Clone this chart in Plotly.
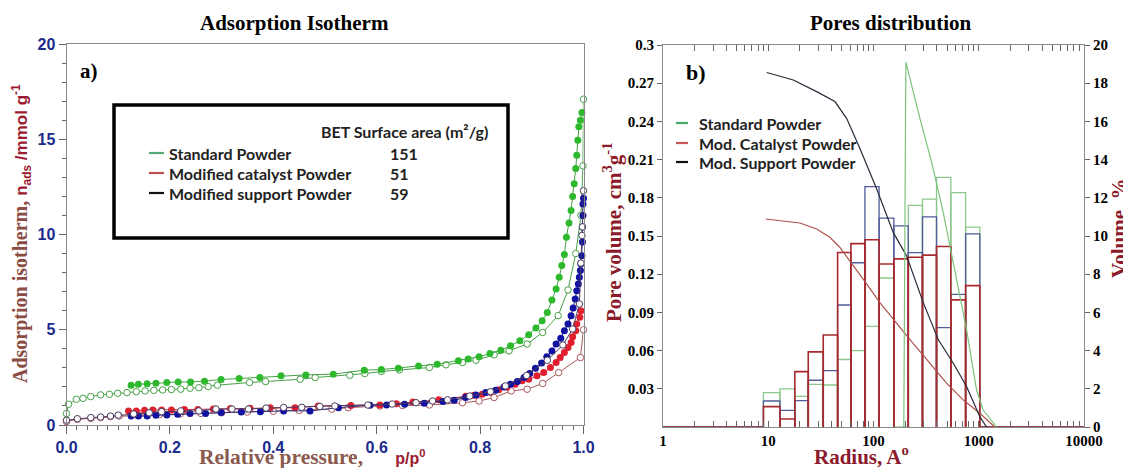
import plotly.graph_objects as go

# ---------------- Left panel: adsorption isotherms (p/p0, n_ads mmol/g) ----------------
std_ads = [(0.125, 2.09), (0.139, 2.14), (0.156, 2.16), (0.173, 2.19), (0.194, 2.23), (0.216, 2.26),
           (0.240, 2.26), (0.267, 2.30), (0.299, 2.39), (0.334, 2.44), (0.374, 2.49), (0.415, 2.58),
           (0.463, 2.63), (0.516, 2.67), (0.576, 2.88), (0.609, 2.91), (0.642, 2.98), (0.681, 3.10),
           (0.717, 3.19), (0.758, 3.37), (0.777, 3.46), (0.798, 3.58), (0.819, 3.75), (0.840, 3.93),
           (0.859, 4.16), (0.877, 4.42), (0.894, 4.74), (0.908, 5.09), (0.920, 5.47), (0.930, 5.91),
           (0.939, 6.56), (0.947, 7.14), (0.953, 7.75), (0.958, 8.37), (0.963, 8.95), (0.967, 9.86),
           (0.972, 10.6), (0.976, 11.26), (0.979, 12.0), (0.982, 12.67), (0.985, 13.46), (0.987, 14.16),
           (0.989, 14.95), (0.991, 15.65), (0.994, 16.0), (0.997, 16.4)]
std_des = [(0.0, 0.6), (0.004, 1.09), (0.019, 1.35), (0.032, 1.40), (0.047, 1.49), (0.066, 1.58),
           (0.083, 1.61), (0.099, 1.67), (0.117, 1.70), (0.135, 1.75), (0.152, 1.79), (0.169, 1.82),
           (0.186, 1.84), (0.203, 1.86), (0.221, 1.88), (0.239, 1.93), (0.256, 1.96), (0.274, 2.02),
           (0.292, 2.09), (0.354, 2.23), (0.385, 2.28), (0.452, 2.40), (0.481, 2.49), (0.548, 2.61),
           (0.577, 2.70), (0.609, 2.81), (0.644, 2.89), (0.702, 3.02), (0.734, 3.16), (0.766, 3.28),
           (0.792, 3.40), (0.827, 3.68), (0.856, 3.89), (0.891, 4.25), (0.921, 4.86), (0.951, 5.74),
           (0.970, 7.09), (0.985, 9.0), (0.995, 11.0), (0.999, 13.6), (1.0, 17.1)]
sup_ads = [(0.125, 0.47), (0.139, 0.47), (0.156, 0.47), (0.173, 0.51), (0.194, 0.53), (0.215, 0.56),
           (0.239, 0.61), (0.269, 0.61), (0.299, 0.65), (0.338, 0.68), (0.375, 0.70), (0.420, 0.74),
           (0.471, 0.74), (0.526, 0.91), (0.587, 1.04), (0.619, 1.05), (0.654, 1.09), (0.692, 1.14),
           (0.728, 1.23), (0.750, 1.30), (0.772, 1.44), (0.792, 1.58), (0.811, 1.70), (0.830, 1.82),
           (0.846, 2.00), (0.859, 2.14), (0.872, 2.28), (0.885, 2.49), (0.896, 2.70), (0.907, 2.98),
           (0.919, 3.25), (0.929, 3.58), (0.939, 3.89), (0.947, 4.25), (0.956, 4.56), (0.963, 4.95),
           (0.970, 5.30), (0.976, 5.74), (0.980, 6.14), (0.984, 6.61), (0.987, 7.05), (0.990, 7.40),
           (0.992, 7.75), (0.994, 8.11), (0.995, 8.46), (0.997, 8.89), (0.998, 9.6), (0.998, 10.4),
           (0.999, 11.0), (0.999, 11.6), (1.0, 11.9)]
sup_des = [(0.0, 0.25), (0.021, 0.33), (0.047, 0.39), (0.066, 0.42), (0.085, 0.47), (0.10, 0.52),
           (0.13, 0.58), (0.16, 0.64), (0.184, 0.70), (0.221, 0.74), (0.256, 0.74), (0.289, 0.84),
           (0.32, 0.84), (0.352, 0.84), (0.386, 0.89), (0.42, 0.92), (0.455, 0.93), (0.49, 0.97),
           (0.519, 1.0), (0.583, 1.05), (0.63, 1.1), (0.676, 1.17), (0.708, 1.26), (0.737, 1.32),
           (0.78, 1.52), (0.82, 1.75), (0.849, 2.05), (0.89, 2.6), (0.93, 3.4), (0.96, 4.2),
           (0.979, 5.04), (0.992, 6.35), (0.995, 8.5), (0.997, 9.95), (0.998, 10.4), (1.0, 12.3)]
cat_ads = [(0.12, 0.74), (0.135, 0.74), (0.151, 0.77), (0.167, 0.79), (0.184, 0.79), (0.203, 0.79),
           (0.228, 0.82), (0.254, 0.82), (0.284, 0.84), (0.317, 0.86), (0.355, 0.88), (0.394, 0.91),
           (0.442, 0.91), (0.487, 1.0), (0.55, 1.02), (0.606, 1.05), (0.638, 1.12), (0.670, 1.21),
           (0.72, 1.32), (0.772, 1.51), (0.788, 1.56), (0.804, 1.61), (0.82, 1.72), (0.836, 1.85),
           (0.852, 1.98), (0.868, 2.14), (0.881, 2.32), (0.894, 2.40), (0.910, 2.58), (0.923, 2.75),
           (0.936, 3.02), (0.947, 3.28), (0.955, 3.54), (0.963, 3.81), (0.970, 4.07), (0.976, 4.33),
           (0.979, 4.63), (0.985, 4.95), (0.987, 5.30), (0.993, 5.65), (0.995, 6.0)]
cat_des = [(0.0, 0.18), (0.021, 0.30), (0.047, 0.35), (0.066, 0.39), (0.085, 0.44), (0.102, 0.47),
           (0.14, 0.52), (0.18, 0.55), (0.22, 0.58), (0.26, 0.61), (0.30, 0.64), (0.35, 0.68),
           (0.40, 0.72), (0.45, 0.76), (0.513, 0.83), (0.545, 0.91), (0.606, 1.0), (0.65, 1.02),
           (0.702, 1.05), (0.766, 1.17), (0.798, 1.26), (0.827, 1.44), (0.860, 1.79), (0.891, 1.88),
           (0.921, 2.18), (0.952, 2.75), (0.994, 3.54), (1.0, 5.0)]

legend_names = ["Standard Powder", "Modified catalyst Powder", "Modified support Powder"]
bet_values = ["151", "51", "59"]

# ---------------- Right panel: pore distribution ----------------
bin_edges = [9.0, 12.9, 17.9, 24.0, 33.3, 45.6, 61.0, 82.9, 113, 156, 214, 292, 397, 543, 750, 1024]
vol_std = [0.027, 0.030, 0.024, 0.0335, 0.033, 0.053, 0.060, 0.079, 0.117, 0.0, 0.174, 0.179, 0.196, 0.184, 0.157]
vol_sup = [0.0204, 0.0131, 0.0207, 0.0367, 0.0442, 0.0958, 0.129, 0.1888, 0.164, 0.158, 0.137, 0.165, 0.078, 0.1042, 0.1516]
vol_cat = [0.016, 0.0063, 0.0435, 0.059, 0.0723, 0.137, 0.144, 0.147, 0.128, 0.132, 0.1333, 0.135, 0.1417, 0.0998, 0.111]

cum_sup_r = [9.66, 17.3, 28.8, 43, 55.5, 74.3, 107, 154, 206, 297, 412, 571, 766, 1024, 1186]
cum_sup_p = [18.56, 18.17, 17.56, 17.04, 16.16, 14.58, 12.47, 10.19, 8.96, 6.51, 4.58, 3.35, 2.12, 0.54, 0]
cum_cat_r = [9.5, 13.9, 20, 28.8, 38.5, 48, 59.7, 79.8, 115, 154, 222, 343, 494, 711, 1024, 1420]
cum_cat_p = [10.89, 10.77, 10.68, 10.37, 9.93, 9.40, 8.70, 7.74, 6.51, 5.63, 4.58, 3.35, 2.30, 1.42, 0.72, 0]
cum_std_r = [194, 203, 276, 356, 459, 593, 766, 953, 1101, 1479]
cum_std_p = [0, 19.1, 16.16, 13.88, 11.25, 8.26, 5.1, 1.95, 0.89, 0]

legend2_names = ["Standard Powder", "Mod. Catalyst Powder", "Mod. Support Powder"]
radius_ticks = [1, 10, 100, 1000, 10000]
vol_ticks = [0.03, 0.06, 0.09, 0.12, 0.15, 0.18, 0.21, 0.24, 0.27, 0.3]

# The page body adds an 8px margin, so the figure is drawn 8px in from the window corner.
OFF = 8
W, H = 1131 - OFF, 468 - OFF
def fx(px):
    return (px - OFF) / W
def fy(py):
    return 1 - (py - OFF) / H

fig = go.Figure()

def iso_trace(pairs, color, line_color, filled):
    xs = [a for a, b in pairs]
    ys = [b for a, b in pairs]
    return go.Scatter(
        x=xs, y=ys, mode="lines+markers", xaxis="x", yaxis="y", cliponaxis=False,
        line=dict(color=line_color, width=1),
        marker=dict(symbol="circle", size=7 if filled else 6.5,
                    color=color if filled else "white",
                    line=dict(color=line_color if not filled else color, width=1 if not filled else 0)),
        showlegend=False, hoverinfo="skip")

fig.add_trace(iso_trace(std_des, "#33aa33", "#47a047", False))
fig.add_trace(iso_trace(std_ads, "#2eb82e", "#45a045", True))
fig.add_trace(iso_trace(cat_des, "#b05a60", "#a8585e", False))
fig.add_trace(iso_trace(cat_ads, "#e0202e", "#b03040", True))
fig.add_trace(iso_trace(sup_ads, "#1212a0", "#30307a", True))
fig.add_trace(iso_trace(sup_des, "#22224a", "#4a3a60", False))

def hist_path(edges, heights):
    xs, ys = [1], [0]
    for i, h in enumerate(heights):
        xs += [edges[i], edges[i], edges[i + 1], edges[i + 1], None]
        ys += [0, h, h, 0, None]
    xs += [edges[-1], 10000]
    ys += [0, 0]
    return xs, ys

for heights, col, w in [(vol_std, "#8cc88c", 1.3), (vol_sup, "#505c98", 1.3), (vol_cat, "#a82a2e", 1.6)]:
    hx, hy = hist_path(bin_edges, heights)
    fig.add_trace(go.Scatter(x=hx, y=hy, mode="lines", xaxis="x2", yaxis="y2",
                             line=dict(color=col, width=w), showlegend=False, hoverinfo="skip"))

fig.add_trace(go.Scatter(x=cum_cat_r, y=cum_cat_p, mode="lines", xaxis="x2", yaxis="y3",
                         line=dict(color="#b0504c", width=1.2), showlegend=False, hoverinfo="skip"))
fig.add_trace(go.Scatter(x=cum_sup_r, y=cum_sup_p, mode="lines", xaxis="x2", yaxis="y3",
                         line=dict(color="#2a2a3a", width=1.2), showlegend=False, hoverinfo="skip"))
fig.add_trace(go.Scatter(x=cum_std_r, y=cum_std_p, mode="lines", xaxis="x2", yaxis="y3",
                         line=dict(color="#7cc47c", width=1.2), showlegend=False, hoverinfo="skip"))

axis_gray = "#8a8a8a"
navy = "#1c2a8c"
maroon = "#8b1a2b"

fig.update_layout(
    template="none",
    width=W, height=H, autosize=False,
    margin=dict(l=0, r=0, t=0, b=0, autoexpand=False),
    paper_bgcolor="white", plot_bgcolor="white",
    xaxis=dict(domain=[fx(66.5), fx(583.5)], range=[0, 1], anchor="y", automargin=False,
               tickvals=[0, 0.2, 0.4, 0.6, 0.8, 1.0], ticktext=["0.0", "0.2", "0.4", "0.6", "0.8", "1.0"],
               ticks="outside", ticklen=8, tickcolor="#666", showline=True, linecolor=axis_gray,
               mirror=True, showgrid=False, zeroline=False,
               tickfont=dict(family="Liberation Sans", size=16, color=navy, weight="bold"),
               minor=dict(dtick=0.02, ticks="outside", ticklen=4, tickcolor="#666", showgrid=False)),
    yaxis=dict(domain=[fy(425), fy(44)], range=[0, 20], anchor="x", automargin=False,
               tickvals=[0, 5, 10, 15, 20], ticks="outside", ticklen=7, tickcolor="#666",
               showline=True, linecolor=axis_gray, mirror=True, showgrid=False, zeroline=False,
               tickfont=dict(family="Liberation Sans", size=16, color=navy, weight="bold"),
               minor=dict(dtick=1, ticks="outside", ticklen=4, tickcolor="#666", showgrid=False)),
    xaxis2=dict(domain=[fx(663), fx(1084)], type="log", range=[0, 4], anchor="y2", automargin=False,
                tickvals=radius_ticks, ticktext=[str(v) for v in radius_ticks],
                ticks="inside", ticklen=6, tickcolor="#666", showline=True, linecolor=axis_gray,
                mirror="allticks", showgrid=False, zeroline=False,
                tickfont=dict(family="Liberation Serif", size=15, color="black", weight="bold"),
                minor=dict(dtick="D1", ticks="inside", ticklen=3, tickcolor="#666", showgrid=False)),
    yaxis2=dict(domain=[fy(427), fy(45)], range=[0, 0.3], anchor="x2", automargin=False,
                tickvals=vol_ticks, ticktext=["0.03", "0.06", "0.09", "0.12", "0.15", "0.18", "0.21", "0.24", "0.27", "0.3"],
                ticks="outside", ticklen=5, tickcolor="#666", showline=True, linecolor=axis_gray,
                showgrid=False, zeroline=False,
                tickfont=dict(family="Liberation Serif", size=15, color="black", weight="bold")),
    yaxis3=dict(range=[0, 20], overlaying="y2", side="right", anchor="x2", automargin=False,
                tickvals=list(range(0, 21, 2)), ticks="outside", ticklen=5, tickcolor="#666",
                showline=True, linecolor=axis_gray, showgrid=False, zeroline=False,
                tickfont=dict(family="Liberation Serif", size=15, color="black", weight="bold")),
)

def note(x, y, text, font, xanchor="center", angle=0):
    fig.add_annotation(x=fx(x), y=fy(y), xref="paper", yref="paper", showarrow=False,
                       xanchor=xanchor, yanchor="middle", textangle=angle, text=text, font=font)

# Titles
note(294, 23, "<b>Adsorption Isotherm</b>", dict(family="Liberation Serif", size=21, color="black"))
note(891, 23, "<b>Pores distribution</b>", dict(family="Liberation Serif", size=21, color="black"))

# Panel labels
note(89, 71, "<b>a)</b>", dict(family="Liberation Serif", size=21, color="black"))
note(696, 73, "<b>b)</b>", dict(family="Liberation Serif", size=22, color="black"))

# Axis titles, left panel
note(21, 234, "<b>Adsorption isotherm, </b><span style='font-family:Liberation Sans;color:#9b1b30;font-size:17px'><b>n<sub>ads</sub> /mmol g<sup>-1</sup></b></span>",
     dict(family="Liberation Serif", size=20, color="#8b4c44"), angle=-90)
note(312, 457, "<b>Relative pressure,</b>&nbsp;&nbsp;&nbsp;&nbsp;&nbsp;&nbsp;<span style='font-family:Liberation Sans;color:#9b1b30;font-size:16px'><b>p/p<sup>0</sup></b></span>",
     dict(family="Liberation Serif", size=21.5, color="#8b5a4f"))

# Axis titles, right panel
note(861, 455, "<b>Radius, A<sup>o</sup></b>", dict(family="Liberation Serif", size=21, color=maroon))
note(612, 232, "<b>Pore volume, cm<sup>3</sup>g<sup>-1</sup></b>", dict(family="Liberation Serif", size=21, color=maroon), angle=-90)
note(1119, 228, "<b>Volume, %</b>", dict(family="Liberation Serif", size=21, color=maroon), angle=-90)

# Left legend box
fig.add_shape(type="rect", xref="paper", yref="paper", x0=fx(114), x1=fx(508), y0=fy(238), y1=fy(105),
              line=dict(color="black", width=3.5), fillcolor="rgba(0,0,0,0)")
note(319, 131, "BET Surface area (m²/g)", dict(family="Lato", size=16, color="#222", weight="bold"), xanchor="left")
leg1_colors = ["#55a878", "#c05050", "#111111"]
for i, (name, val, col) in enumerate(zip(legend_names, bet_values, leg1_colors)):
    yy = 153 + 20 * i
    fig.add_shape(type="line", xref="paper", yref="paper", x0=fx(149), x1=fx(164), y0=fy(yy), y1=fy(yy),
                  line=dict(color=col, width=2.2))
    note(167, yy, name, dict(family="Lato", size=16, color="#222", weight="bold"), xanchor="left")
    note(388, yy, val, dict(family="Lato", size=16, color="#222", weight="bold"), xanchor="left")

# Right legend
leg2_colors = ["#4aa86a", "#c85858", "#111111"]
for i, (name, col) in enumerate(zip(legend2_names, leg2_colors)):
    yy = [123, 143, 162][i]
    fig.add_shape(type="line", xref="paper", yref="paper", x0=fx(676), x1=fx(688), y0=fy(yy), y1=fy(yy),
                  line=dict(color=col, width=2.2))
    note(697, yy, "<b>" + name + "</b>", dict(family="Lato", size=16, color="#222"), xanchor="left")

fig.write_html("out.html")
